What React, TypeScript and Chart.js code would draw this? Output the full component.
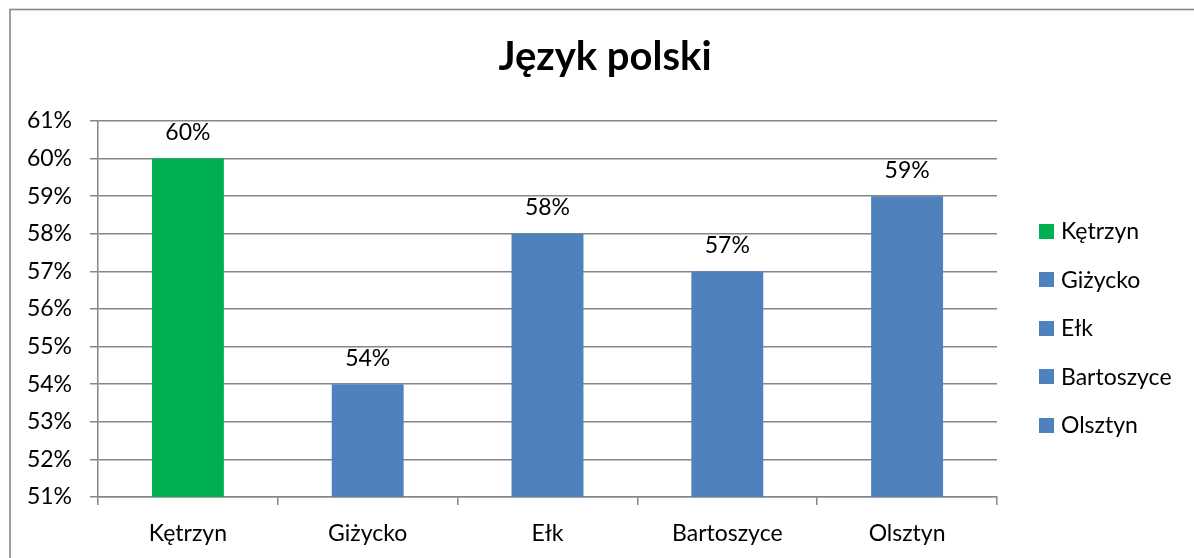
import React, { useEffect, useRef } from "react";
import { Chart, registerables } from "chart.js";

Chart.register(...registerables);

const titleText = "Język polski";
const categories = ["Kętrzyn", "Giżycko", "Ełk", "Bartoszyce", "Olsztyn"];
const values = [60, 54, 58, 57, 59];
const barColors = ["#00B050", "#4F81BD", "#4F81BD", "#4F81BD", "#4F81BD"];
const yMin = 51;
const yMax = 61;
const yStep = 1;

const FONT = "Lato, 'Liberation Sans', sans-serif";
const GRID = "#868686";
const LABEL_SIZE = 23;

const framePlugin = {
  id: "frame",
  beforeDraw(chart: any) {
    const ctx = chart.ctx;
    ctx.save();
    ctx.fillStyle = "#ffffff";
    ctx.fillRect(0, 0, chart.width, chart.height);
    ctx.strokeStyle = GRID;
    ctx.lineWidth = 1.6;
    ctx.strokeRect(10, 9.5, 1400, 800);
    ctx.restore();
  },
};

const titlePlugin = {
  id: "customTitle",
  afterDraw(chart: any) {
    const ctx = chart.ctx;
    ctx.save();
    ctx.fillStyle = "#000";
    ctx.font = `bold 40px ${FONT}`;
    ctx.textAlign = "center";
    ctx.textBaseline = "alphabetic";
    ctx.fillText(titleText, 605, 70);
    ctx.restore();
  },
};

const dataLabelPlugin = {
  id: "dataLabels",
  afterDatasetsDraw(chart: any) {
    const ctx = chart.ctx;
    const meta = chart.getDatasetMeta(0);
    ctx.save();
    ctx.fillStyle = "#000";
    ctx.font = `${LABEL_SIZE}px ${FONT}`;
    ctx.textAlign = "center";
    ctx.textBaseline = "alphabetic";
    meta.data.forEach((el: any, i: number) => {
      ctx.fillText(`${values[i]}%`, el.x, el.y - 18.5);
    });
    ctx.restore();
  },
};

const legendPlugin = {
  id: "customLegend",
  afterDraw(chart: any) {
    const ctx = chart.ctx;
    ctx.save();
    ctx.font = `${LABEL_SIZE}px ${FONT}`;
    ctx.textAlign = "left";
    ctx.textBaseline = "alphabetic";
    const x0 = 1039;
    const yStart = 231;
    const gap = 48.5;
    categories.forEach((c, i) => {
      const cy = yStart + i * gap;
      ctx.fillStyle = barColors[i];
      ctx.fillRect(x0, Math.round(cy - 7.5), 15, 15);
      ctx.fillStyle = "#000";
      ctx.fillText(c, x0 + 22, cy + 8);
    });
    ctx.restore();
  },
};

export default function App() {
  const canvasRef = useRef<HTMLCanvasElement | null>(null);

  useEffect(() => {
    if (!canvasRef.current) return;
    Chart.defaults.font.family = FONT;
    Chart.defaults.color = "#000";
    const chart = new Chart(canvasRef.current, {
      type: "bar",
      data: {
        labels: categories,
        datasets: [
          {
            label: titleText,
            data: values,
            backgroundColor: barColors,
            borderWidth: 0,
            barPercentage: 0.4,
            categoryPercentage: 1,
          },
        ],
      },
      options: {
        animation: false,
        responsive: false,
        devicePixelRatio: 1,
        layout: { padding: { left: 0, top: 121, right: 197, bottom: 0 } },
        plugins: {
          legend: { display: false },
          title: { display: false },
          tooltip: { enabled: false },
        },
        scales: {
          x: {
            offset: true,
            grid: {
              display: true,
              drawOnChartArea: false,
              drawTicks: true,
              tickLength: 8,
              color: GRID,
              lineWidth: 1.5,
              offset: true,
            },
            border: { display: true, color: GRID, width: 1.5 },
            ticks: { font: { size: LABEL_SIZE }, color: "#000", padding: 15, maxRotation: 0 },
            afterFit(scale: any) {
              scale.height = 61;
            },
          },
          y: {
            min: yMin,
            max: yMax,
            ticks: {
              stepSize: yStep,
              font: { size: LABEL_SIZE },
              color: "#000",
              padding: 18,
              callback: (v: any) => `${v}%`,
            },
            grid: { color: GRID, lineWidth: 1.5, tickLength: 8, drawTicks: true },
            border: { display: true, color: GRID, width: 1.5 },
            afterFit(scale: any) {
              scale.width = 98;
            },
          },
        },
      },
      plugins: [framePlugin, titlePlugin, dataLabelPlugin, legendPlugin],
    } as any);
    return () => chart.destroy();
  }, []);

  return (
    <div style={{ position: "fixed", left: 0, top: 0, width: 1194, height: 558, background: "#fff" }}>
      <canvas ref={canvasRef} width={1194} height={558} style={{ display: "block" }} />
    </div>
  );
}
